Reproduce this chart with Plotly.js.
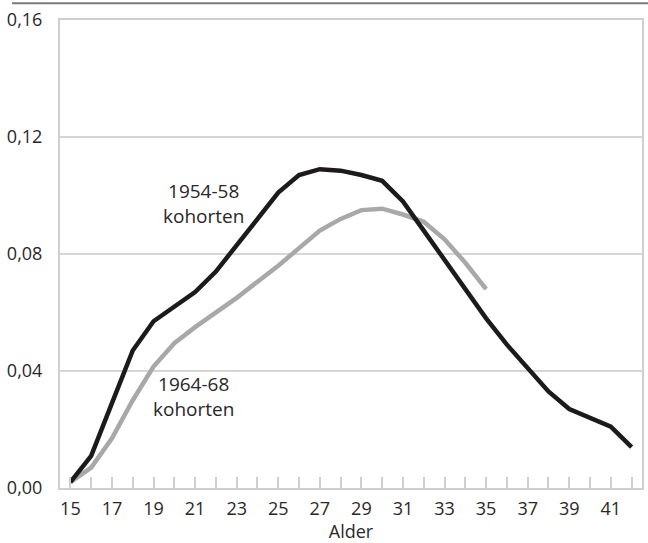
<!DOCTYPE html>
<html>
<head>
<meta charset="utf-8">
<script src="https://cdn.plot.ly/plotly-3.0.1.min.js"></script>
<style>html,body{margin:0;padding:0;background:#fff}#chart{width:648px;height:543px}</style>
</head>
<body>
<div id="chart"></div>
<script>
const ages = [15,16,17,18,19,20,21,22,23,24,25,26,27,28,29,30,31,32,33,34,35,36,37,38,39,40,41,42];
const cohort5458 = [0.002,0.011,0.029,0.047,0.057,0.062,0.067,0.074,0.083,0.092,0.101,0.107,0.109,0.1085,0.107,0.105,0.098,0.088,0.078,0.068,0.058,0.049,0.041,0.033,0.027,0.024,0.021,0.014];
const ages6468 = [15,16,17,18,19,20,21,22,23,24,25,26,27,28,29,30,31,32,33,34,35];
const cohort6468 = [0.002,0.007,0.017,0.030,0.0415,0.0495,0.055,0.060,0.065,0.0705,0.076,0.082,0.088,0.092,0.095,0.0955,0.0935,0.091,0.085,0.077,0.068];
const xTickVals = [15,17,19,21,23,25,27,29,31,33,35,37,39,41];
const yTickVals = [0,0.04,0.08,0.12,0.16];
const label5458 = "1954-58<br>kohorten";
const label6468 = "1964-68<br>kohorten";
const xTitle = "Alder";

const fontFam = "'Open Sans', 'Noto Sans', sans-serif";
const txt = '#2a2728';
const frame = '#cfcfcf';

const data = [
  {x: ages6468, y: cohort6468, type: 'scatter', mode: 'lines', line: {color: '#a8a8a8', width: 4.5}, hoverinfo: 'skip'},
  {x: ages, y: cohort5458, type: 'scatter', mode: 'lines', line: {color: '#1c1a1b', width: 4.5}, hoverinfo: 'skip'}
];

const layout = {
  width: 648, height: 543,
  margin: {l: 60, r: 6, t: 20, b: 55},
  paper_bgcolor: '#fff', plot_bgcolor: '#fff',
  showlegend: false,
  separators: ',.',
  font: {family: fontFam, size: 18, color: txt},
  xaxis: {
    range: [14.5, 42.5],
    tickmode: 'array', tickvals: xTickVals, ticktext: xTickVals.map(String),
    ticks: 'inside', ticklen: 11, tickwidth: 2, tickcolor: frame,
    minor: {dtick: 1, tick0: 15, ticks: 'inside', ticklen: 11, tickwidth: 2, tickcolor: frame, showgrid: false},
    ticklabelstandoff: 3,
    showline: true, linecolor: frame, linewidth: 2, mirror: true,
    showgrid: false, zeroline: false,
    tickfont: {size: 18, color: txt},
    title: {text: xTitle, font: {size: 18, color: txt}, standoff: 0}
  },
  yaxis: {
    range: [0, 0.16],
    tickmode: 'array', tickvals: yTickVals,
    tickformat: '.2f',
    ticks: 'outside', ticklen: 12, tickcolor: 'rgba(0,0,0,0)',
    showline: true, linecolor: frame, linewidth: 2, mirror: true,
    showgrid: true, gridcolor: '#d6d6d6', gridwidth: 2, zeroline: false,
    tickfont: {size: 18, color: txt}
  },
  shapes: [
    {type: 'line', xref: 'paper', yref: 'paper', x0: -0.0825, x1: 1.02, y0: 1.036, y1: 1.036, line: {color: '#7a7a7a', width: 2}}
  ],
  annotations: [
    {x: 21.4, y: 0.0973, xref: 'x', yref: 'y', text: label5458, showarrow: false, font: {size: 19, color: txt}, align: 'center'},
    {x: 20.9, y: 0.0313, xref: 'x', yref: 'y', text: label6468, showarrow: false, font: {size: 19, color: txt}, align: 'center'}
  ]
};

Plotly.newPlot('chart', data, layout, {displayModeBar: false, staticPlot: true});
</script>
</body>
</html>
